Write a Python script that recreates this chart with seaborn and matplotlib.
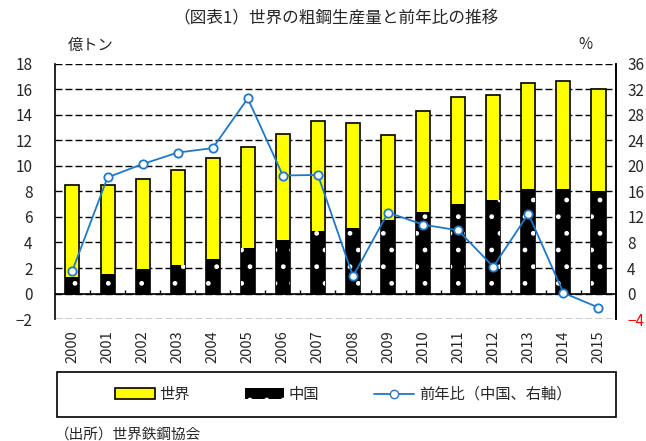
import numpy as np
import matplotlib
matplotlib.use("Agg")
import matplotlib.pyplot as plt
import matplotlib.patches as mpatches
from matplotlib.lines import Line2D
import seaborn as sns

years = ["2000", "2001", "2002", "2003", "2004", "2005", "2006", "2007",
         "2008", "2009", "2010", "2011", "2012", "2013", "2014", "2015"]
world = [8.5, 8.5, 9.0, 9.7, 10.6, 11.5, 12.5, 13.5,
         13.4, 12.4, 14.3, 15.4, 15.6, 16.5, 16.7, 16.0]
china = [1.3, 1.5, 1.9, 2.2, 2.7, 3.6, 4.2, 4.9,
         5.1, 5.8, 6.4, 7.0, 7.3, 8.2, 8.2, 8.0]
growth = [3.6, 18.2, 20.3, 22.1, 22.8, 30.6, 18.5, 18.6,
          2.7, 12.7, 10.8, 9.9, 4.2, 12.5, 0.1, -2.2]

left_ticks = [-2, 0, 2, 4, 6, 8, 10, 12, 14, 16, 18]
right_ticks = [-4, 0, 4, 8, 12, 16, 20, 24, 28, 32, 36]

sns.set_style("white")
plt.rcParams["font.family"] = ["Noto Sans CJK JP", "DejaVu Sans"]

blue = "#1F78C8"

fig = plt.figure(figsize=(6.46, 4.41), dpi=100)
ax = fig.add_axes([0.085, 0.2766, 0.8686, 0.5784])

sns.barplot(x=years, y=world, color="#FFFF00", edgecolor="black",
            linewidth=1.2, width=0.4, saturation=1, ax=ax, zorder=3)
sns.barplot(x=years, y=china, color="black", width=0.4, saturation=1,
            ax=ax, zorder=4)
# white dot pattern on the China bars
for p in ax.containers[1]:
    p.set_edgecolor("white")
    p.set_linewidth(0)
    p.set_hatch(".")

ax.set_ylim(-2, 18)
ax.set_xlim(-0.5, len(years) - 0.5)
ax.set_yticks(left_ticks)
ax.yaxis.grid(True, linestyle=(0, (5, 2.2)), color="black", linewidth=1.0)
ax.set_axisbelow(True)
ax.axhline(0, color="black", linewidth=1.2, zorder=5)
ax.vlines(np.arange(len(years) - 1) + 0.5, 0, 0.25, color="black",
          linewidth=1.0, zorder=5)
for s in ["top", "bottom"]:
    ax.spines[s].set_visible(False)
for s in ["left", "right"]:
    ax.spines[s].set_color("black")
    ax.spines[s].set_linewidth(1.2)
ax.tick_params(axis="y", length=0, pad=16, labelsize=11)
ax.tick_params(axis="x", length=0, pad=8, labelsize=10.5, rotation=90)
ax.set_xlabel("")

ax2 = ax.twinx()
sns.lineplot(x=np.arange(len(years)), y=growth, color=blue, linewidth=1.3,
             marker="o", markersize=6, markerfacecolor="white",
             markeredgecolor=blue, markeredgewidth=1.3, ax=ax2, zorder=6)
ax2.set_ylim(-4, 36)
ax2.set_yticks(right_ticks)
ax2.tick_params(axis="y", length=0, pad=8, labelsize=11)
ax2.get_yticklabels()[0].set_color("red")
for s in ["top", "bottom", "left"]:
    ax2.spines[s].set_visible(False)
ax2.spines["right"].set_color("black")
ax2.spines["right"].set_linewidth(1.2)

fig.text(0.52, 0.957, "（図表1）世界の粗鋼生産量と前年比の推移",
         ha="center", va="center", fontsize=12)
fig.text(0.14, 0.898, "億トン", ha="center", va="center", fontsize=11)
fig.text(0.907, 0.898, "%", ha="center", va="center", fontsize=11)
fig.text(0.085, 0.013, "（出所）世界鉄鋼協会", ha="left", va="center",
         fontsize=10.5)

# legend box
fig.patches.append(mpatches.Rectangle((57 / 646, 1 - 417 / 441),
                                      (616 - 57) / 646, 45 / 441,
                                      transform=fig.transFigure,
                                      facecolor="none", edgecolor="black",
                                      linewidth=1.2))
h1 = mpatches.Patch(facecolor="#FFFF00", edgecolor="black", linewidth=1.2)
h2 = mpatches.Patch(facecolor="black", edgecolor="white", linewidth=0,
                    hatch=".")
h3 = Line2D([], [], color=blue, linewidth=1.3, marker="o", markersize=6,
            markerfacecolor="white", markeredgecolor=blue)
fig.legend([h1, h2, h3], ["世界", "中国", "前年比（中国、右軸）"],
           loc="center", bbox_to_anchor=(343 / 646, 1 - 394.5 / 441),
           ncol=3, frameon=False, fontsize=11, handlelength=2.6,
           handletextpad=0.3, columnspacing=3.6)

fig.savefig("out.png", dpi=100)
